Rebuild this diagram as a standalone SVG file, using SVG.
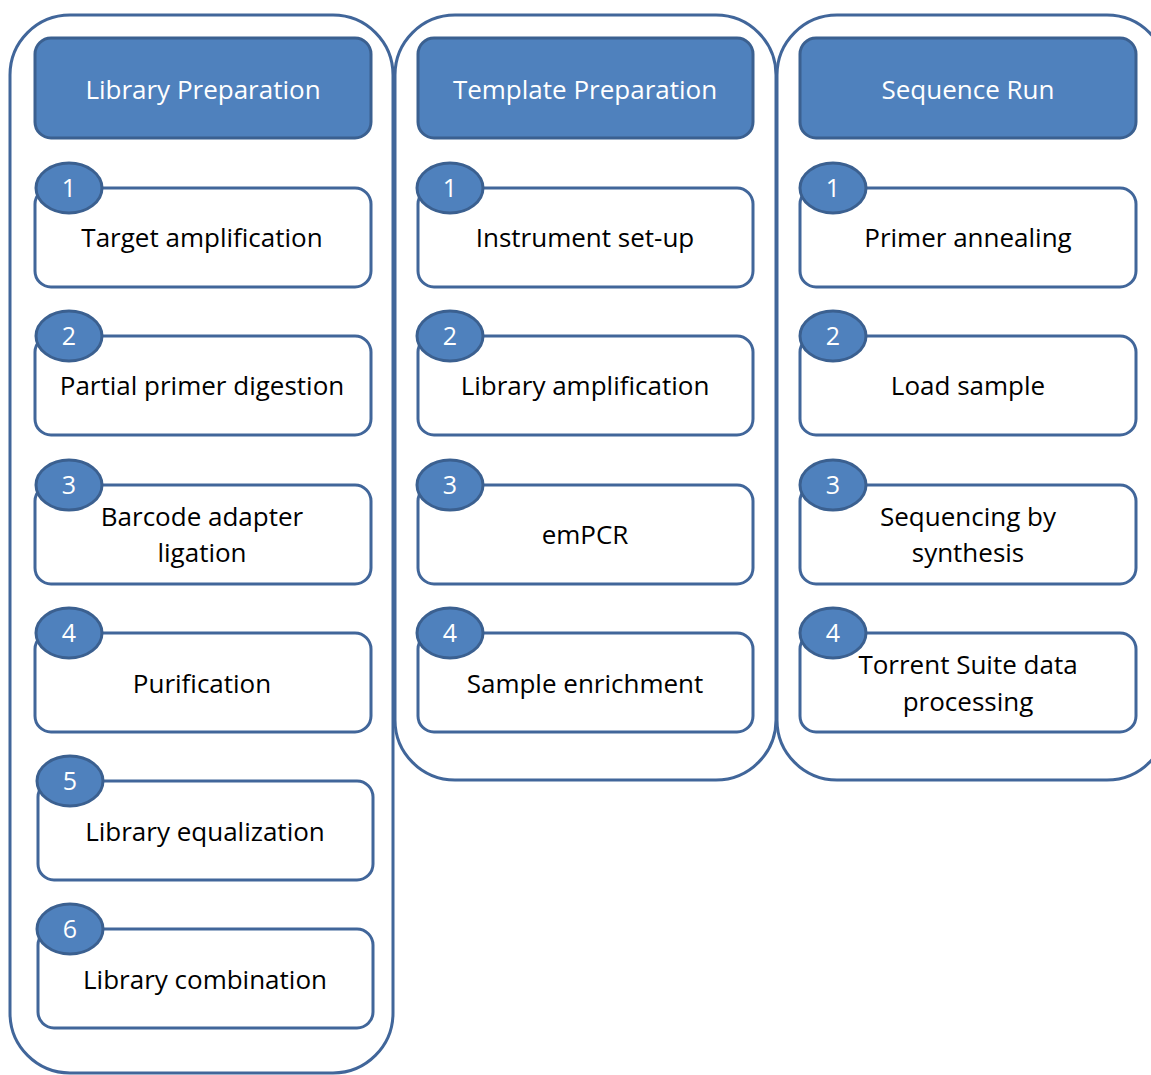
<svg xmlns="http://www.w3.org/2000/svg" width="1151" height="1075" viewBox="0 0 1151 1075">
<style>
.cont{fill:#fff;stroke:#41669A;stroke-width:3}
.hdr{fill:#4F81BD;stroke:#3B6090;stroke-width:3}
.box{fill:#fff;stroke:#41669A;stroke-width:3}
.num{fill:#4F81BD;stroke:#3B6090;stroke-width:3}
.ht{font-family:"Open Sans","Liberation Sans",sans-serif;font-size:26px;fill:#fff;text-anchor:middle}
.nt{font-family:"Open Sans","Liberation Sans",sans-serif;font-size:25px;fill:#fff;text-anchor:middle}
.bt{font-family:"Open Sans","Liberation Sans",sans-serif;font-size:26px;fill:#000;text-anchor:middle}
</style>
<rect width="1151" height="1075" fill="#fff"/>
<g id="containers">
<rect class="cont" x="10" y="15" width="383" height="1058" rx="60"/>
<rect class="cont" x="395" y="15" width="381" height="765" rx="60"/>
<rect class="cont" x="777" y="15" width="390" height="765" rx="60"/>
</g>
<g id="connectors"></g>
<g id="hdr-library"><rect class="hdr" x="35" y="38" width="336" height="100" rx="16"/><text class="ht" x="203" y="99">Library Preparation</text></g>
<g id="hdr-template"><rect class="hdr" x="418" y="38" width="335" height="100" rx="16"/><text class="ht" x="585" y="99">Template Preparation</text></g>
<g id="hdr-sequence"><rect class="hdr" x="800" y="38" width="336" height="100" rx="16"/><text class="ht" x="968" y="99">Sequence Run</text></g>

<g id="lib1"><rect class="box" x="35" y="188" width="336" height="99" rx="16"/><ellipse class="num" cx="69" cy="188" rx="33" ry="25"/><text class="nt" x="69" y="197">1</text><text class="bt" x="202" y="247">Target amplification</text></g>
<g id="lib2"><rect class="box" x="35" y="336" width="336" height="99" rx="16"/><ellipse class="num" cx="69" cy="336" rx="33" ry="25"/><text class="nt" x="69" y="345">2</text><text class="bt" x="202" y="395">Partial primer digestion</text></g>
<g id="lib3"><rect class="box" x="35" y="485" width="336" height="99" rx="16"/><ellipse class="num" cx="69" cy="485" rx="33" ry="25"/><text class="nt" x="69" y="494">3</text><text class="bt" x="202" y="526">Barcode adapter</text><text class="bt" x="202" y="562">ligation</text></g>
<g id="lib4"><rect class="box" x="35" y="633" width="336" height="99" rx="16"/><ellipse class="num" cx="69" cy="633" rx="33" ry="25"/><text class="nt" x="69" y="642">4</text><text class="bt" x="202" y="693">Purification</text></g>
<g id="lib5"><rect class="box" x="38" y="781" width="335" height="99" rx="16"/><ellipse class="num" cx="70" cy="781" rx="33" ry="25"/><text class="nt" x="70" y="790">5</text><text class="bt" x="205" y="841">Library equalization</text></g>
<g id="lib6"><rect class="box" x="38" y="929" width="335" height="99" rx="16"/><ellipse class="num" cx="70" cy="929" rx="33" ry="25"/><text class="nt" x="70" y="938">6</text><text class="bt" x="205" y="989">Library combination</text></g>

<g id="tpl1"><rect class="box" x="418" y="188" width="335" height="99" rx="16"/><ellipse class="num" cx="450" cy="188" rx="33" ry="25"/><text class="nt" x="450" y="197">1</text><text class="bt" x="585" y="247">Instrument set-up</text></g>
<g id="tpl2"><rect class="box" x="418" y="336" width="335" height="99" rx="16"/><ellipse class="num" cx="450" cy="336" rx="33" ry="25"/><text class="nt" x="450" y="345">2</text><text class="bt" x="585" y="395">Library amplification</text></g>
<g id="tpl3"><rect class="box" x="418" y="485" width="335" height="99" rx="16"/><ellipse class="num" cx="450" cy="485" rx="33" ry="25"/><text class="nt" x="450" y="494">3</text><text class="bt" x="585" y="544">emPCR</text></g>
<g id="tpl4"><rect class="box" x="418" y="633" width="335" height="99" rx="16"/><ellipse class="num" cx="450" cy="633" rx="33" ry="25"/><text class="nt" x="450" y="642">4</text><text class="bt" x="585" y="693">Sample enrichment</text></g>

<g id="seq1"><rect class="box" x="800" y="188" width="336" height="99" rx="16"/><ellipse class="num" cx="833" cy="188" rx="33" ry="25"/><text class="nt" x="833" y="197">1</text><text class="bt" x="968" y="247">Primer annealing</text></g>
<g id="seq2"><rect class="box" x="800" y="336" width="336" height="99" rx="16"/><ellipse class="num" cx="833" cy="336" rx="33" ry="25"/><text class="nt" x="833" y="345">2</text><text class="bt" x="968" y="395">Load sample</text></g>
<g id="seq3"><rect class="box" x="800" y="485" width="336" height="99" rx="16"/><ellipse class="num" cx="833" cy="485" rx="33" ry="25"/><text class="nt" x="833" y="494">3</text><text class="bt" x="968" y="526">Sequencing by</text><text class="bt" x="968" y="562">synthesis</text></g>
<g id="seq4"><rect class="box" x="800" y="633" width="336" height="99" rx="16"/><ellipse class="num" cx="833" cy="633" rx="33" ry="25"/><text class="nt" x="833" y="642">4</text><text class="bt" x="968" y="674">Torrent Suite data</text><text class="bt" x="968" y="711">processing</text></g>
</svg>
